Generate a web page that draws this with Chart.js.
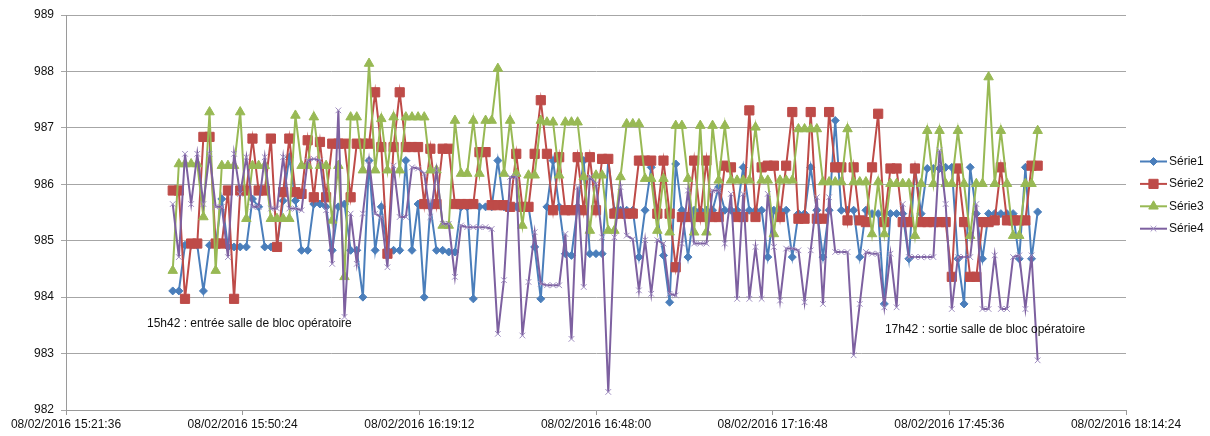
<!DOCTYPE html>
<html>
<head>
<meta charset="utf-8">
<title>Pression</title>
<script src="https://cdn.jsdelivr.net/npm/chart.js@4.4.1/dist/chart.umd.min.js"></script>
<style>
body { margin: 0; background: #fff; }
#wrap { width: 1210px; height: 436px; position: relative; }
</style>
</head>
<body>
<div id="wrap"><canvas id="chart"></canvas></div>
<script>
// one sample per minute, 15:39 -> 18:00
var firstSample = '15:39:00';
var sampleCount = 142;

var serie1 = [984.11,984.11,984.92,984.92,984.92,984.11,984.92,984.92,985.74,984.89,
  984.89,984.89,984.89,985.74,985.60,984.89,984.89,984.89,985.71,986.48,
  985.71,984.83,984.83,985.65,985.65,985.60,984.83,985.60,985.65,984.83,
  984.83,984.00,986.42,984.83,985.60,984.83,984.83,984.83,986.42,984.83,
  985.65,984.00,985.60,984.83,984.83,984.80,984.80,985.60,985.60,983.97,
  985.60,985.60,985.60,986.42,985.60,985.60,985.60,985.60,985.60,984.89,
  983.97,985.60,986.42,985.60,984.77,984.74,985.60,986.42,984.77,984.77,
  984.77,986.42,985.54,985.54,985.54,985.54,984.71,985.54,986.30,985.42,
  984.74,983.91,986.36,985.54,984.71,985.54,985.54,985.54,985.54,985.95,
  985.54,985.54,985.54,986.30,985.54,985.54,985.54,984.71,985.54,985.54,
  985.54,984.71,985.48,985.48,986.30,985.54,984.71,985.54,987.13,985.54,
  985.54,985.54,984.71,985.54,985.48,985.48,983.88,985.48,985.48,985.48,
  984.68,986.30,985.48,986.28,986.28,986.28,986.30,986.30,984.68,983.88,
  986.30,985.48,984.68,985.48,985.48,985.48,985.48,985.48,984.68,986.30,
  984.68,985.51];

var serie2 = [985.89,985.89,983.97,984.95,984.95,986.84,986.84,984.95,984.95,985.89,
  983.97,985.89,985.89,986.81,985.89,985.89,986.81,984.89,985.86,986.81,
  985.86,985.83,986.78,985.77,986.75,985.77,986.72,986.72,986.72,985.77,
  986.72,986.72,986.72,987.63,986.66,984.77,986.66,987.63,986.66,986.66,
  986.66,985.65,986.63,985.65,986.63,986.63,985.65,985.65,985.65,985.65,
  986.57,986.57,985.63,985.63,985.63,985.60,986.54,985.60,985.60,986.54,
  987.49,986.54,985.54,986.48,985.54,985.54,986.48,985.54,986.48,985.54,
  986.45,986.45,985.48,985.48,985.48,985.48,986.42,986.42,986.42,985.48,
  986.42,985.48,984.53,985.42,985.42,986.42,985.42,986.42,985.42,985.42,
  986.33,986.30,985.42,985.42,987.31,985.42,986.30,986.33,986.33,985.42,
  986.33,987.28,985.39,985.39,987.28,985.39,985.39,987.28,986.30,986.30,
  985.36,986.30,985.36,985.33,986.30,987.25,985.33,986.28,986.28,985.33,
  985.33,986.28,985.33,985.33,985.33,985.33,985.33,984.36,986.28,985.33,
  984.36,984.36,985.33,985.33,985.36,986.30,985.36,985.36,985.36,985.36,
  986.33,986.33];

var serie3 = [984.47,986.36,986.36,986.36,986.36,985.42,987.28,984.47,986.33,986.33,
  986.33,987.28,985.39,986.33,986.33,986.33,985.39,985.39,985.39,985.39,
  987.22,986.33,986.33,987.19,986.33,986.33,985.36,986.33,984.36,987.19,
  987.19,986.25,988.14,986.25,987.16,986.25,987.19,986.25,987.19,987.19,
  987.19,987.19,986.25,986.25,985.27,985.27,987.13,986.19,986.19,987.13,
  986.19,987.13,987.13,988.05,986.19,987.13,986.19,985.27,986.16,986.16,
  987.13,987.10,987.10,986.16,987.10,987.10,987.10,986.13,985.18,986.16,
  986.16,985.18,985.18,986.13,987.07,987.07,987.07,986.10,986.10,985.18,
  986.10,985.15,987.04,987.04,986.10,985.15,987.04,985.15,987.04,986.07,
  987.04,986.07,986.07,986.07,986.07,987.01,986.07,986.07,985.12,986.07,
  986.07,986.07,986.98,986.98,986.98,986.98,986.04,986.04,986.04,986.04,
  986.98,986.04,986.04,986.04,985.12,986.04,985.12,986.01,986.01,986.01,
  986.01,985.09,986.01,986.95,986.01,986.95,986.01,986.01,986.95,986.01,
  985.09,986.01,986.01,987.90,986.01,986.95,986.01,985.09,985.09,986.01,
  986.01,986.95];

var serie4 = [985.65,984.71,986.54,985.65,986.54,985.65,986.54,985.60,985.60,984.71,
  986.54,985.83,986.48,985.60,985.60,986.48,985.57,985.57,986.48,985.57,
  985.57,985.54,986.42,986.45,986.42,985.54,984.59,987.31,983.65,985.48,
  984.59,985.48,986.42,985.48,985.42,984.53,986.33,985.42,985.42,986.30,
  986.28,986.19,985.42,986.25,985.30,985.30,984.36,985.27,985.24,985.24,
  985.24,985.24,985.21,983.35,984.30,986.13,986.13,983.32,984.27,985.15,
  984.24,984.21,984.21,984.21,985.12,983.26,985.95,984.18,986.13,986.01,
  985.06,982.32,985.06,985.95,985.09,985.03,984.12,985.01,984.06,985.01,
  984.95,984.06,984.03,984.95,985.89,984.95,984.95,984.95,985.89,985.89,
  984.95,985.83,983.97,985.83,983.97,984.89,983.97,985.83,984.89,983.94,
  984.86,984.86,984.83,983.91,984.83,985.77,983.88,985.77,984.80,984.80,
  984.80,982.97,983.88,984.80,984.77,984.77,983.82,984.77,983.82,985.65,
  984.71,984.71,984.71,984.71,984.71,986.60,985.65,983.79,984.71,984.71,
  984.71,985.65,983.79,983.79,984.74,983.79,983.79,984.71,984.74,983.79,
  984.74,982.88];

var tickTimes = ['15:21:36','15:50:24','16:19:12','16:48:00','17:16:48','17:45:36','18:14:24'];
var tickLabels = ['08/02/2016 15:21:36','08/02/2016 15:50:24','08/02/2016 16:19:12',
  '08/02/2016 16:48:00','08/02/2016 17:16:48','08/02/2016 17:45:36','08/02/2016 18:14:24'];

var notes = [
  { text: '15h42 : entrée salle de bloc opératoire', at: '15:34:48', value: 983.53 },
  { text: '17h42 : sortie salle de bloc opératoire', at: '17:35:06', value: 983.43 }
];

function toSec(t) {
  var p = t.split(':');
  return (+p[0]) * 3600 + (+p[1]) * 60 + (+p[2]);
}

var times = [];
for (var i = 0; i < sampleCount; i++) times.push(toSec(firstSample) + i * 60);

function pts(vals) {
  return vals.map(function (v, i) { return { x: times[i], y: v }; });
}

var FONT = "'Liberation Sans', Arial, sans-serif";

var series = [
  { label: 'Série1', data: serie1, color: '#4a7ebb', marker: 'rectRot', r: 4, fill: true, order: 4 },
  { label: 'Série2', data: serie2, color: '#be4b48', marker: 'rect', r: 6.5, fill: true, order: 3 },
  { label: 'Série3', data: serie3, color: '#98b954', marker: 'triangle', r: 5.5, fill: true, order: 2 },
  { label: 'Série4', data: serie4, color: '#7d60a0', marker: 'crossRot', r: 4, fill: false, order: 1 }
];

var datasets = series.map(function (s) {
  return {
    label: s.label,
    data: pts(s.data),
    borderColor: s.color,
    backgroundColor: s.color,
    borderWidth: 2,
    tension: 0,
    pointStyle: s.marker,
    pointRadius: s.r,
    pointHoverRadius: s.r,
    pointBackgroundColor: s.color,
    pointBorderColor: s.fill ? s.color : '#9f8dc0',
    pointBorderWidth: 1,
    order: s.order
  };
});

var extras = {
  id: 'extras',
  afterDraw: function (chart) {
    var ctx = chart.ctx;
    var xs = chart.scales.x, ys = chart.scales.y;
    ctx.save();
    ctx.fillStyle = '#111';
    ctx.font = '12px ' + FONT;
    ctx.textBaseline = 'middle';
    ctx.textAlign = 'left';
    notes.forEach(function (n) {
      ctx.fillText(n.text, xs.getPixelForValue(toSec(n.at)), ys.getPixelForValue(n.value));
    });

    // legend
    var lx = chart.chartArea.right + 14;
    var y0 = 161.5;
    series.forEach(function (s, k) {
      var y = y0 + k * 22.4;
      ctx.strokeStyle = s.color;
      ctx.lineWidth = 2;
      ctx.beginPath();
      ctx.moveTo(lx, y);
      ctx.lineTo(lx + 27, y);
      ctx.stroke();
      ctx.fillStyle = s.color;
      ctx.strokeStyle = s.fill ? s.color : '#9f8dc0';
      ctx.lineWidth = 1;
      Chart.helpers.drawPoint(ctx, { pointStyle: s.marker, radius: s.r, rotation: 0, borderWidth: 1 }, lx + 13.5, y);
      ctx.fillStyle = '#111';
      ctx.font = '12px ' + FONT;
      ctx.fillText(s.label, lx + 29, y);
    });
    ctx.restore();
  }
};

new Chart(document.getElementById('chart'), {
  type: 'line',
  data: { datasets: datasets },
  options: {
    responsive: true,
    maintainAspectRatio: false,
    animation: false,
    events: [],
    layout: { padding: { top: 15, right: 84, left: 0, bottom: 0 } },
    plugins: { legend: { display: false }, tooltip: { enabled: false } },
    scales: {
      x: {
        type: 'linear',
        min: toSec(tickTimes[0]),
        max: toSec(tickTimes[tickTimes.length - 1]),
        afterBuildTicks: function (scale) {
          scale.ticks = tickTimes.map(function (t) { return { value: toSec(t) }; });
        },
        afterFit: function (scale) { scale.height = 26; },
        ticks: {
          autoSkip: false,
          maxRotation: 0,
          padding: 2,
          color: '#111',
          font: { family: FONT, size: 12 },
          callback: function (v, i) { return tickLabels[i]; }
        },
        grid: { drawOnChartArea: false, drawTicks: true, tickLength: 5, color: '#9a9a9a' },
        border: { color: '#9a9a9a' }
      },
      y: {
        min: 982,
        max: 989,
        afterFit: function (scale) { scale.width = 66; },
        ticks: {
          stepSize: 1,
          padding: 7,
          color: '#111',
          font: { family: FONT, size: 12 }
        },
        grid: { color: '#a6a6a6', tickLength: 5 },
        border: { color: '#9a9a9a' }
      }
    }
  },
  plugins: [extras]
});
</script>
</body>
</html>
